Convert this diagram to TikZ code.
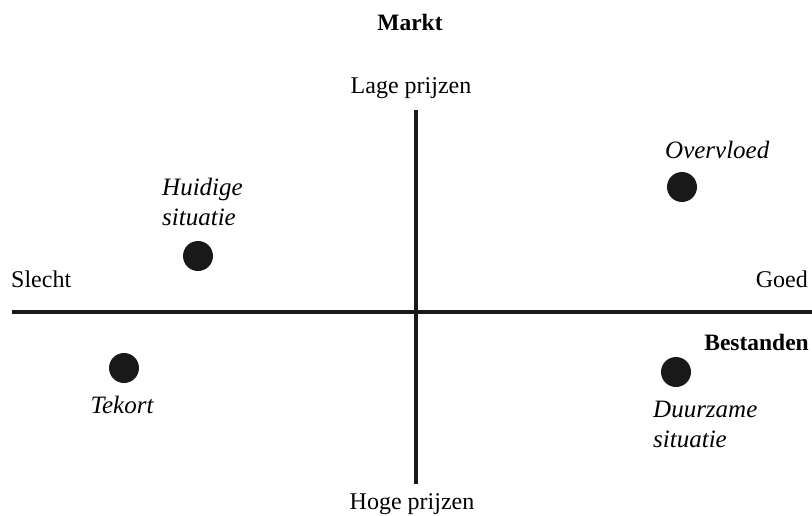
\documentclass[tikz,border=0pt]{standalone}
\usepackage{fontspec}
\setmainfont{Liberation Serif}

\begin{document}
\begin{tikzpicture}[x=1pt,y=-1pt,
    axis/.style={line width=4.5pt, black!90},
    dot/.style={circle, fill=black!90, inner sep=0pt, minimum size=30pt},
    lbl/.style={inner sep=0pt, font=\fontsize{24}{29}\selectfont},
    bold/.style={lbl, font=\fontsize{23.5}{29}\selectfont\bfseries},
    case/.style={lbl, font=\fontsize{25}{30}\selectfont\itshape, align=left}]
  \useasboundingbox (0,0) rectangle (812,515);

  % axes
  \coordinate (w) at (12,312);
  \coordinate (e) at (812,312);
  \coordinate (n) at (416,110);
  \coordinate (s) at (416,484);
  \draw[axis] (w) -- (e);
  \draw[axis] (n) -- (s);

  % axis labels
  \node[bold, anchor=base]      (markt) at (410,30)  {Markt};
  \node[lbl,  anchor=base]      (lage)  at (411,93)  {Lage prijzen};
  \node[lbl,  anchor=base]      (hoge)  at (412,509) {Hoge prijzen};
  \node[lbl,  anchor=base west] (slecht) at (11,287) {Slecht};
  \node[lbl,  anchor=base east] (goed)  at (808,287) {Goed};
  \node[bold, anchor=base east] (best)  at (809,350) {Bestanden};

  % situations
  \node[dot] (huidig) at (198,256) {};
  \node[dot] (overv)  at (682,187) {};
  \node[dot] (tekort) at (124,368) {};
  \node[dot] (duurz)  at (676,372) {};

  \node[case, anchor=north west] (huidiglbl) at (162,178) {Huidige\\situatie};
  \node[case, anchor=base west]  (overvlbl)  at (665,158) {Overvloed};
  \node[case, anchor=base]       (tekortlbl) at (122,413) {Tekort};
  \node[case, anchor=north west] (duurzlbl)  at (653,401) {Duurzame\\situatie};
\end{tikzpicture}
\end{document}
